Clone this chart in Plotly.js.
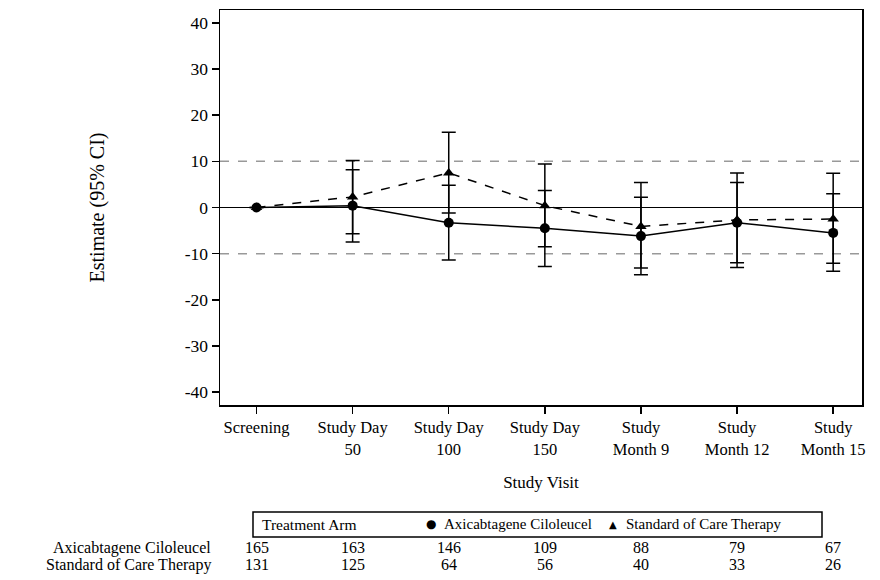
<!DOCTYPE html>
<html>
<head>
<meta charset="utf-8">
<script src="https://cdn.plot.ly/plotly-3.0.1.min.js"></script>
<style>html,body{margin:0;padding:0;background:#fff;}#chart{width:880px;height:580px;}</style>
</head>
<body>
<div id="chart"></div>
<script>
// ---- data ----
const visits = ["Screening", "Study Day<br>50", "Study Day<br>100", "Study Day<br>150", "Study<br>Month 9", "Study<br>Month 12", "Study<br>Month 15"];
const axiEst   = [0, 0.4, -3.3, -4.5, -6.2, -3.3, -5.5];
const axiLower = [0, -7.5, -11.4, -12.8, -14.6, -12.0, -13.8];
const axiUpper = [0, 8.2, 4.8, 3.7, 2.2, 5.4, 3.0];
const socEst   = [0, 2.3, 7.5, 0.4, -4.1, -2.7, -2.5];
const socLower = [0, -5.7, -1.2, -8.5, -13.1, -13.0, -12.1];
const socUpper = [0, 10.2, 16.3, 9.4, 5.4, 7.5, 7.4];
const axiN = [165, 163, 146, 109, 88, 79, 67];
const socN = [131, 125, 64, 56, 40, 33, 26];
const armNames = ["Axicabtagene Ciloleucel", "Standard of Care Therapy"];
const legendTitle = "Treatment Arm";
const yTickVals = [-40, -30, -20, -10, 0, 10, 20, 30, 40];
const yTickText = ["-40", "-30", "-20", "-10", "0", "10", "20", "30", "40"];
const refLines = [-10, 10];

const FONT = "Liberation Serif, Times New Roman, serif";

function errs(est, lo, hi) {
  return {
    type: "data", symmetric: false,
    array: hi.map((h, i) => h - est[i]),
    arrayminus: lo.map((l, i) => est[i] - l),
    color: "#000", thickness: 1.5, width: 7
  };
}

const traces = [
  {
    x: visits, y: socEst, type: "scatter", mode: "lines+markers", showlegend: false,
    line: {color: "#000", width: 1.5, dash: "dash"},
    marker: {symbol: "triangle-up", size: 10, color: "#000"},
    error_y: errs(socEst, socLower, socUpper)
  },
  {
    x: visits, y: axiEst, type: "scatter", mode: "lines+markers", showlegend: false,
    line: {color: "#000", width: 1.5},
    marker: {symbol: "circle", size: 10, color: "#000"},
    error_y: errs(axiEst, axiLower, axiUpper)
  }
];

const shapes = refLines.map(v => ({
  type: "line", xref: "paper", x0: 0, x1: 1, yref: "y", y0: v, y1: v,
  line: {color: "#999", width: 1.5, dash: "dash"}, layer: "below"
}));
// legend box
shapes.push({
  type: "rect", xref: "paper", yref: "paper", x0: 0.0514, x1: 0.9377, y0: -0.2709, y1: -0.3342,
  line: {color: "#000", width: 1.5}, fillcolor: "rgba(0,0,0,0)"
});

const annotations = [];
const legY = -0.3025;
const tf = (s) => ({family: FONT, size: s, color: "#000"});
annotations.push({xref: "paper", yref: "paper", x: 0.0623, y: legY, xanchor: "left", yanchor: "middle",
  text: legendTitle, showarrow: false, font: tf(15.5)});
annotations.push({xref: "paper", yref: "paper", x: 0.3287, y: legY, xanchor: "center", yanchor: "middle",
  text: "●", showarrow: false, font: {family: "DejaVu Sans", size: 12, color: "#000"}});
annotations.push({xref: "paper", yref: "paper", x: 0.3458, y: legY, xanchor: "left", yanchor: "middle",
  text: armNames[0], showarrow: false, font: tf(15)});
annotations.push({xref: "paper", yref: "paper", x: 0.612, y: legY, xanchor: "center", yanchor: "middle",
  text: "▲", showarrow: false, font: {family: "DejaVu Sans", size: 10, color: "#000"}});
annotations.push({xref: "paper", yref: "paper", x: 0.6293, y: legY, xanchor: "left", yanchor: "middle",
  text: armNames[1], showarrow: false, font: tf(15)});

const rowY = [-0.362, -0.405];
[axiN, socN].forEach((arr, r) => {
  annotations.push({
    xref: "paper", yref: "paper", x: -0.011, y: rowY[r], xanchor: "right", yanchor: "middle",
    text: armNames[r], showarrow: false, font: tf(16)
  });
  arr.forEach((n, i) => {
    annotations.push({
      xref: "x", yref: "paper", x: visits[i], y: rowY[r], xanchor: "center", yanchor: "middle",
      text: String(n), showarrow: false, font: tf(16)
    });
  });
});

const layout = {
  width: 880, height: 580,
  margin: {l: 220, r: 18, t: 10, b: 175},
  paper_bgcolor: "#fff", plot_bgcolor: "#fff",
  font: {family: FONT, size: 16, color: "#000"},
  showlegend: false,
  xaxis: {
    type: "category", categoryarray: visits, range: [-0.38, 6.3],
    showgrid: false, zeroline: false,
    showline: true, linecolor: "#000", linewidth: 1.5, mirror: true,
    ticks: "outside", ticklen: 7, tickwidth: 1.5, tickcolor: "#000",
    tickfont: tf(16.5),
    title: {text: "Study Visit", font: tf(17), standoff: 18}
  },
  yaxis: {
    range: [-42.8, 42.8], tickmode: "array", tickvals: yTickVals, ticktext: yTickText,
    showgrid: false, zeroline: true, zerolinecolor: "#000", zerolinewidth: 1.5,
    showline: true, linecolor: "#000", linewidth: 1.5, mirror: true,
    ticks: "outside", ticklen: 7, tickwidth: 1.5, tickcolor: "#000",
    tickfont: tf(17.5),
    title: {text: "Estimate (95% CI)", font: tf(20), standoff: 74}
  },
  shapes: shapes,
  annotations: annotations
};

Plotly.newPlot("chart", traces, layout, {displayModeBar: false, staticPlot: true});
</script>
</body>
</html>
